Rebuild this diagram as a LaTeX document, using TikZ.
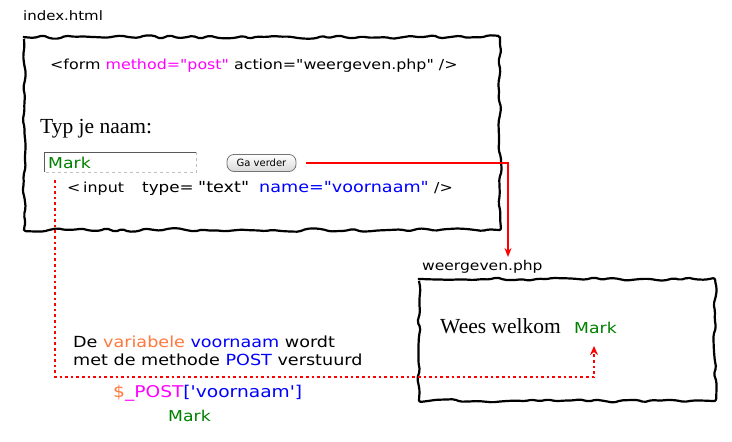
\documentclass[tikz,border=0pt]{standalone}
\usepackage{fontspec}
\setmainfont{Liberation Serif}
\newfontfamily\vfont[Ligatures=TeXOff,FakeStretch=1.15]{DejaVu Sans}
\newfontfamily\bfont[Ligatures=TeXOff]{DejaVu Sans}
\usetikzlibrary{decorations.pathmorphing,arrows.meta}
\definecolor{mgreen}{RGB}{0,128,0}
\definecolor{mblue}{RGB}{0,0,255}
\definecolor{mmag}{RGB}{255,0,255}
\definecolor{morange}{RGB}{255,120,60}
\definecolor{mred}{RGB}{255,0,0}
\tikzset{
  wavy/.style={draw=black, decorate, decoration={random steps,segment length=8pt,amplitude=1.8pt},
    line width=2.2pt, rounded corners=2pt, line join=round},
  vt/.style={font=\vfont\fontsize{13.8}{16}\selectfont, inner sep=0pt, anchor=base west},
  vw/.style={font=\vfont\fontsize{15.3}{17}\selectfont, inner sep=0pt, anchor=base west},
  vs/.style={font=\vfont\fontsize{13}{15}\selectfont, inner sep=0pt, anchor=base west},
  vb/.style={font=\vfont\fontsize{15.3}{18}\selectfont, inner sep=0pt, anchor=base west},
  mk/.style={font=\vfont\fontsize{15}{17}\selectfont, inner sep=0pt, anchor=base west, text=mgreen},
  st/.style={font=\fontsize{21.5}{24}\selectfont, inner sep=0pt, anchor=base west},
  redline/.style={draw=mred, line width=2pt, -{Stealth[length=9pt,width=7pt]}},
  reddot/.style={draw=mred, line width=2.6pt, dash pattern=on 2.6pt off 3pt, -{Stealth[length=9pt,width=8pt]}},
}
\begin{document}
\begin{tikzpicture}[x=1pt,y=-1pt]
\pgfmathsetseed{7}
\useasboundingbox (0,0) rectangle (732,442);
\fill[white] (0,0) rectangle (732,442);
% boxes
\path[wavy] (24,37) rectangle (500,230);
\path[wavy] (419,279) rectangle (715,401);
% labels
\node[vs] (idx) at (23,20) {index.html};
\node[vt] (frm) at (50,69) {<form {\color{mmag}method="post"} action="weergeven.php" />};
\node[st] (typ) at (40,133) {Typ je naam:};
% input field
\node[minimum width=152pt, minimum height=20pt, inner sep=0pt, anchor=north west] (inp) at (44,152) {};
\draw[draw=black!65, line width=1pt] (inp.south west) -- (inp.north west) -- (inp.north east);
\draw[draw=black!25, line width=1pt, dashed] (inp.north east) -- (inp.south east) -- (inp.south west);
\node[mk] (mk1) at (48,168) {Mark};
% button
\node[draw=black!55, rounded corners=7pt, minimum width=69pt, minimum height=17pt, inner sep=0pt,
  top color=white, bottom color=black!15, line width=0.8pt,
  font=\bfont\fontsize{10}{12}\selectfont] (btn) at (261.5,163) {Ga verder};
% input tag line
\node[vt] (i1) at (67,192) {<};
\node[vt] (i2) at (83,192) {input};
\node[vw, font=\vfont\fontsize{14.6}{17}\selectfont] (i3) at (142,192) {type=};
\node[vw] (i4) at (198,192) {"text"};
\node[vw, text=mblue] (i5) at (259,192) {name="voornaam"};
\node[vt] (i6) at (434,192) {/>};
% second page
\node[vs, font=\vfont\fontsize{13.5}{15}\selectfont] (wg) at (422,270) {weergeven.php};
\node[st] (wk) at (440,333) {Wees welkom};
\node[mk] (mk2) at (574,333) {Mark};
% explanation
\node[vb] (ex1) at (73,347) {De {\color{morange}variabele} {\color{mblue}voornaam} wordt};
\node[vb] (ex2) at (73,365) {met de methode {\color{mblue}POST} verstuurd};
\node[vb, font=\vfont\fontsize{16.2}{18}\selectfont] (pv) at (113,397) {{\color{morange}\$}{\color{mmag}\_POST}{\color{mblue}['voornaam']}};
\node[mk] (mk3) at (168,421) {Mark};
% connectors
\coordinate (c1) at (508,163);
\coordinate (c2) at (508,257);
\draw[redline, shorten <=10pt] (btn.east) -- (c1) -- (c2);
\coordinate (d0) at (55,180);
\coordinate (d1) at (55,377);
\coordinate (d2) at (594,377);
\coordinate (d3) at (594,346);
\draw[reddot] (d0) -- (d1) -- (d2) -- (d3);
\end{tikzpicture}
\end{document}
